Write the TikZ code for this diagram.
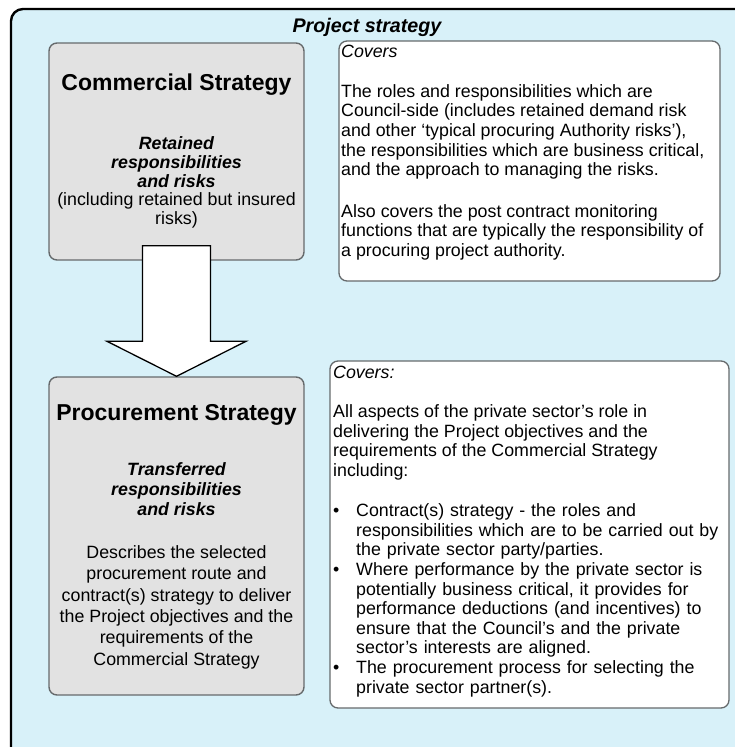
\documentclass[tikz,border=0pt]{standalone}
\usepackage{fontspec}
\setmainfont{Liberation Sans}
\usetikzlibrary{calc}
\definecolor{panelblue}{HTML}{D8F1F9}
\definecolor{boxgray}{HTML}{E2E2E2}
\definecolor{edgegray}{HTML}{666A6C}
% invisible strut that fixes the first baseline 18pt below a text node's top
\newcommand\lead{\rule{0pt}{18pt}}
\newcommand\hdfont{\fontsize{23}{26}\selectfont\bfseries}
\newcommand\bdfont{\fontsize{17.8}{19.6}\selectfont}
\begin{document}
\begin{tikzpicture}[x=1pt,y=-1pt,
  frame/.style={draw=black, line width=2.4pt, fill=panelblue, rounded corners=12pt},
  stratbox/.style={draw=edgegray, line width=1.4pt, fill=boxgray, rounded corners=8pt},
  notebox/.style={draw=edgegray, line width=1.3pt, fill=white, rounded corners=8pt},
  bigarrow/.style={draw=black, line width=1.3pt, fill=white, line join=miter},
  ctext/.style={inner sep=0pt, anchor=north, align=center},
  ltext/.style={inner sep=0pt, anchor=north west, align=left},
]
\useasboundingbox (0,0) rectangle (735,747);
\clip (0,0) rectangle (735,747);

% outer panel (runs past the right and bottom edges)
\draw[frame] (11,9) rectangle (760,775);
\node[inner sep=0pt, anchor=base, font=\fontsize{19.7}{22}\selectfont\bfseries\itshape] (title) at (367,32) {Project strategy};

% left column: the two strategy boxes
\node[stratbox, minimum width=255pt, minimum height=217pt] (comm) at (176.5,151.5) {};
\node[stratbox, minimum width=255pt, minimum height=318pt] (proc) at (176.5,536) {};

% block arrow from the commercial to the procurement strategy
\draw[bigarrow] ($(comm.south)+(-34,-15)$) -- ($(comm.south)+(34,-15)$)
  -- ($(proc.north)+(34,-35)$) -- ($(proc.north)+(69.5,-35)$) -- (proc.north)
  -- ($(proc.north)+(-69.5,-35)$) -- ($(proc.north)+(-34,-35)$) -- cycle;

% right column: what each strategy covers
\node[notebox, minimum width=381pt, minimum height=240pt] (cov1) at (529.5,161) {};
\node[notebox, minimum width=399pt, minimum height=347pt] (cov2) at (529.5,534.5) {};

% commercial strategy text
\node[ctext, font=\hdfont] (commtitle) at (176.5,72) {\lead Commercial Strategy};
\node[ctext, font=\fontsize{17.8}{18.9}\selectfont] (commbody) at (176.5,131)
  {\lead\textbf{\textit{Retained}}\\ \textbf{\textit{responsibilities}}\\ \textbf{\textit{and risks}}\\ (including retained but insured\\ risks)};

% procurement strategy text
\node[ctext, font=\hdfont] (proctitle) at (176.5,402) {\lead Procurement Strategy};
\node[ctext, font=\fontsize{17.8}{20}\selectfont\bfseries\itshape] (procsub) at (176.5,457)
  {\lead Transferred\\ responsibilities\\ and risks};
\node[ctext, font=\fontsize{17.8}{21.3}\selectfont] (procbody) at (176.5,540.3)
  {\lead Describes the selected\\ procurement route and\\ contract(s) strategy to deliver\\ the Project objectives and the\\ requirements of the\\ Commercial Strategy};

% covers: commercial strategy
\node[ltext, font=\bdfont\itshape] (cov1head) at (341,39) {\lead Covers};
\node[ltext, font=\bdfont] (cov1body) at (341,79)
  {\lead The roles and responsibilities which are\\ Council-side (includes retained demand risk\\ and other ‘typical procuring Authority risks’),\\ the responsibilities which are business critical,\\ and the approach to managing the risks.};
\node[ltext, font=\bdfont] (cov1more) at (341,199)
  {\lead Also covers the post contract monitoring\\ functions that are typically the responsibility of\\ a procuring project authority.};

% covers: procurement strategy
\node[ltext, font=\bdfont\itshape] (cov2head) at (333,360) {\lead Covers:};
\node[ltext, font=\bdfont] (cov2body) at (333,399.5)
  {\lead All aspects of the private sector’s role in\\ delivering the Project objectives and the\\ requirements of the Commercial Strategy\\ including:};
\node[ltext, font=\bdfont, text width=392pt] (cov2list) at (333,498.5)
  {\setlength\parindent{0pt}\setlength\parskip{0pt}%
   \hangindent=23pt\hangafter=1\lead\makebox[23pt][l]{•}Contract(s) strategy - the roles and\newline responsibilities which are to be carried out by\newline the private sector party/parties.\par
   \hangindent=23pt\hangafter=1\makebox[23pt][l]{•}Where performance by the private sector is\newline potentially business critical, it provides for\newline performance deductions (and incentives) to\newline ensure that the Council’s and the private\newline sector’s interests are aligned.\par
   \hangindent=23pt\hangafter=1\makebox[23pt][l]{•}The procurement process for selecting the\newline private sector partner(s).\par};
\end{tikzpicture}
\end{document}
